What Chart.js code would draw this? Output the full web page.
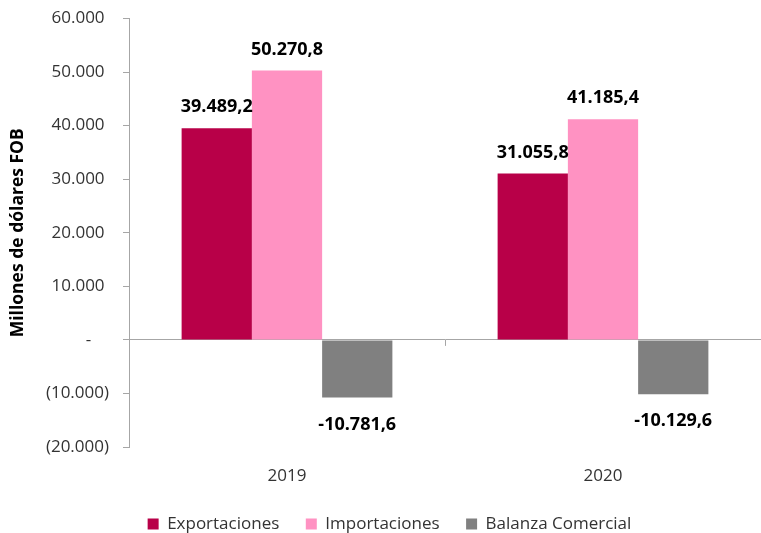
<!DOCTYPE html>
<html>
<head>
<meta charset="utf-8">
<script src="https://cdn.jsdelivr.net/npm/chart.js@4"></script>
<style>
  html, body { margin: 0; padding: 0; background: #fff; }
  #wrap { width: 761px; height: 533px; }
</style>
</head>
<body>
<div id="wrap"><canvas id="barChart"></canvas></div>
<script>
const years = ['2019', '2020'];
const exportaciones = [39489.2, 31055.8];
const importaciones = [50270.8, 41185.4];
const balanza = [-10781.6, -10129.6];
const yTicks = [-20000, -10000, 0, 10000, 20000, 30000, 40000, 50000, 60000];

// 39489.2 -> "39.489,2"
function fmt(v, dec) {
  const s = Math.abs(v).toFixed(dec);
  const parts = s.split('.');
  const intPart = parts[0].replace(/\B(?=(\d{3})+(?!\d))/g, '.');
  return (v < 0 ? '-' : '') + intPart + (parts[1] ? ',' + parts[1] : '');
}

const axisGray = '#a6a6a6';

// value labels above / below the bars, plus the category divider tick
const barLabels = {
  id: 'barLabels',
  afterLayout(chart) {
    // nudge legend a bit to the right like the original
    chart.legend.left += 9;
    chart.legend.right += 9;
  },
  afterDatasetsDraw(chart) {
    const ctx = chart.ctx;
    ctx.save();
    ctx.font = 'bold 18px "Open Sans"';
    ctx.fillStyle = '#000';
    ctx.textAlign = 'center';
    ctx.textBaseline = 'alphabetic';
    chart.data.datasets.forEach((ds, i) => {
      chart.getDatasetMeta(i).data.forEach((bar, j) => {
        const v = ds.data[j];
        const y = v >= 0 ? bar.y - 16 : bar.y + 32;
        ctx.fillText(fmt(v, 1), bar.x, y);
      });
    });
    const xs = chart.scales.x, ys = chart.scales.y;
    const mid = (xs.getPixelForValue(0) + xs.getPixelForValue(1)) / 2;
    const y0 = ys.getPixelForValue(0);
    ctx.strokeStyle = axisGray;
    ctx.lineWidth = 1;
    ctx.beginPath();
    ctx.moveTo(Math.round(mid) + 0.5, y0);
    ctx.lineTo(Math.round(mid) + 0.5, y0 + 6);
    ctx.stroke();
    ctx.restore();
  }
};

const ctx = document.getElementById('barChart').getContext('2d');

new Chart(ctx, {
  type: 'bar',
  data: {
    labels: years,
    datasets: [
      { label: 'Exportaciones', data: exportaciones, backgroundColor: '#b80048' },
      { label: 'Importaciones', data: importaciones, backgroundColor: '#ff92c2' },
      { label: 'Balanza Comercial', data: balanza, backgroundColor: '#808080' }
    ]
  },
  options: {
    responsive: true,
    maintainAspectRatio: false,
    animation: false,
    layout: { padding: { top: 18.5, right: 0, left: 0, bottom: -9.5 } },
    datasets: {
      bar: { categoryPercentage: 0.667, barPercentage: 1.0 }
    },
    scales: {
      x: {
        position: 'bottom',
        grid: { display: false, drawTicks: false },
        border: { display: false },
        ticks: {
          padding: 19,
          color: '#333',
          font: { family: 'Open Sans', size: 17 }
        },
        afterFit(scale) { scale.height = 42; }
      },
      y: {
        min: -20000,
        max: 60000,
        afterBuildTicks(scale) { scale.ticks = yTicks.map(v => ({ value: v })); },
        border: { display: true, color: axisGray, width: 1 },
        grid: {
          drawOnChartArea: true,
          color: c => (c.tick && c.tick.value === 0 ? axisGray : 'rgba(0,0,0,0)'),
          tickColor: axisGray,
          tickLength: 6
        },
        ticks: {
          padding: 14,
          color: '#333',
          font: { family: 'Open Sans', size: 17 },
          callback: v => {
            if (v === 0) return '-    ';
            if (v < 0) return '(' + fmt(-v, 0) + ')';
            return fmt(v, 0) + ' ';
          }
        },
        title: {
          display: true,
          text: 'Millones de dólares FOB',
          color: '#000',
          font: { family: 'Open Sans', size: 17.5, weight: 'bold' },
          padding: { top: 7.5, bottom: 0 }
        },
        afterFit(scale) {
          scale.width = 129;
          scale.paddingTop = 0;
          scale.paddingBottom = 0;
        }
      }
    },
    plugins: {
      legend: {
        position: 'bottom',
        labels: {
          boxWidth: 11,
          boxHeight: 11,
          padding: 26.5,
          color: '#333',
          font: { family: 'Open Sans', size: 17 }
        }
      },
      tooltip: { enabled: false }
    }
  },
  plugins: [barLabels]
});
</script>
</body>
</html>
